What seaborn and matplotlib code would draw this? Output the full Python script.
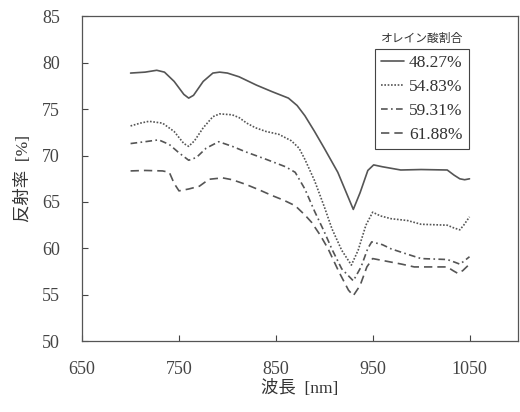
import numpy as np
import pandas as pd
import seaborn as sns
import matplotlib
matplotlib.use("Agg")
import matplotlib.pyplot as plt

# データ
x_4827 = [700, 715, 727, 735, 745, 755, 760, 765, 775, 785, 792, 800, 812, 830, 846, 863, 872, 880,
          890, 900, 914, 922, 930, 937, 945, 951, 960, 979, 1000, 1027, 1034, 1040, 1045, 1050]
y_4827 = [78.9, 79.0, 79.2, 79.0, 78.0, 76.6, 76.2, 76.5, 78.0, 78.9, 79.0, 78.9, 78.5, 77.6, 76.9, 76.2, 75.4, 74.3,
          72.6, 70.8, 68.2, 66.2, 64.2, 66.0, 68.4, 69.0, 68.8, 68.45, 68.5, 68.45, 67.9, 67.5, 67.4, 67.5]

x_5483 = [700, 710, 719, 733, 745, 755, 760, 766, 775, 785, 792, 805, 812, 820, 829, 840, 853, 866, 874,
          880, 890, 900, 908, 918, 928, 935, 943, 950, 958, 969, 986, 1000, 1027, 1034, 1040, 1044, 1050]
y_5483 = [73.2, 73.5, 73.7, 73.5, 72.6, 71.3, 71.0, 71.6, 73.0, 74.2, 74.5, 74.4, 74.1, 73.5, 73.0, 72.6, 72.3, 71.6, 70.8,
          69.6, 67.3, 64.5, 62.1, 59.8, 58.2, 59.8, 62.5, 63.9, 63.5, 63.2, 63.0, 62.6, 62.5, 62.2, 62.0, 62.5, 63.4]

x_5931 = [700, 715, 729, 740, 750, 760, 768, 778, 791, 805, 819, 840, 860, 870, 880, 890, 900, 908,
          918, 930, 938, 945, 949, 960, 969, 985, 1000, 1027, 1035, 1040, 1044, 1050]
y_5931 = [71.3, 71.5, 71.7, 71.2, 70.3, 69.5, 69.8, 70.8, 71.5, 71.0, 70.4, 69.6, 68.8, 68.2, 66.4, 64.0, 61.8, 59.9,
          57.8, 56.5, 58.0, 60.0, 60.7, 60.4, 59.95, 59.4, 58.9, 58.8, 58.5, 58.3, 58.6, 59.1]

x_6188 = [700, 715, 733, 740, 745, 750, 760, 771, 781, 795, 805, 819, 833, 846, 858, 870, 880, 887,
          896, 904, 915, 925, 930, 937, 944, 950, 965, 980, 993, 1027, 1033, 1038, 1043, 1050]
y_6188 = [68.35, 68.4, 68.35, 68.2, 67.0, 66.2, 66.4, 66.7, 67.45, 67.6, 67.4, 66.9, 66.3, 65.7, 65.2, 64.6, 63.6, 62.8,
          61.4, 59.95, 57.5, 55.5, 54.9, 56.0, 58.0, 58.9, 58.6, 58.3, 58.0, 58.0, 57.6, 57.3, 57.6, 58.3]

labels = ["48.27%", "54.83%", "59.31%", "61.88%"]
series = [(x_4827, y_4827), (x_5483, y_5483), (x_5931, y_5931), (x_6188, y_6188)]
styles = ["-", (0, (1, 1)), (0, (4, 2, 1, 2)), (0, (5, 3))]

sns.set_style("ticks")
plt.rcParams["font.family"] = ["Liberation Serif", "Noto Sans CJK JP"]
plt.rcParams["xtick.direction"] = "in"
plt.rcParams["ytick.direction"] = "in"

fig = plt.figure(figsize=(5.2, 4.12), dpi=100)
ax = fig.add_axes([0.158, 0.172, 0.838, 0.788])

for (xs, ys), lab, ls in zip(series, labels, styles):
    df = pd.DataFrame({"wl": xs, "r": ys})
    sns.lineplot(data=df, x="wl", y="r", ax=ax, color="#555555", linewidth=1.2,
                 linestyle=ls, label=lab)

ax.set_xlim(650, 1100)
ax.set_ylim(50, 85)
ax.set_xticks([650, 750, 850, 950, 1050])
ax.set_yticks(np.arange(50, 86, 5))
ax.tick_params(labelsize=13, colors="#444444", length=4, width=0.8)
ax.tick_params(axis="x", pad=14)
ax.tick_params(axis="y", pad=16)
for s in ax.spines.values():
    s.set_color("#555555")
    s.set_linewidth(0.9)

ax.set_xlabel("波長  [nm]", fontsize=12.5, color="#333333", labelpad=2)
ax.set_ylabel("反射率  [%]", fontsize=12.5, color="#333333", labelpad=7)

leg = ax.legend(loc="upper left", bbox_to_anchor=(0.672, 0.90), fontsize=12.5,
                handlelength=1.3, labelspacing=0.45, handletextpad=0.3,
                borderpad=0.35, borderaxespad=0, fancybox=False, framealpha=1)
leg.get_frame().set_edgecolor("#444444")
leg.get_frame().set_linewidth(0.8)
for t in leg.get_texts():
    t.set_color("#333333")
ax.text(0.78, 0.932, "オレイン酸割合", transform=ax.transAxes, ha="center", va="center",
        fontsize=8.5, color="#333333", family=["Noto Sans CJK JP"])

fig.savefig("out.png", dpi=100)
